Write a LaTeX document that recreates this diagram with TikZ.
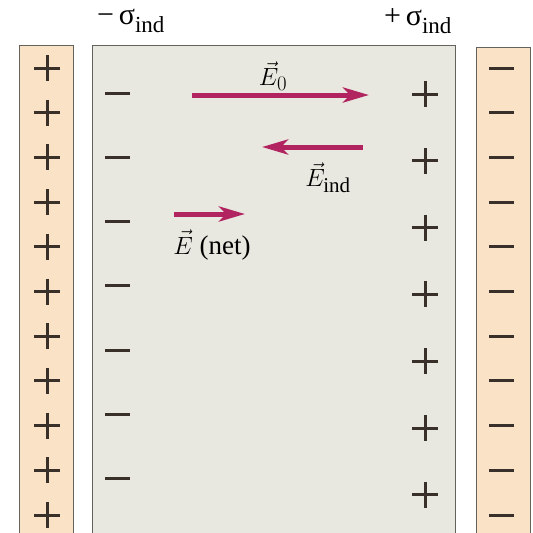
\documentclass[tikz,border=0pt]{standalone}
\usepackage{fontspec}
\setmainfont{Liberation Serif}
\DeclareMathSizes{27}{27}{21}{16}
\DeclareMathSizes{30}{30}{23}{18}
\usetikzlibrary{arrows.meta}
\definecolor{plateFill}{RGB}{250,226,198}
\definecolor{slabFill}{RGB}{233,232,224}
\definecolor{edgeInk}{RGB}{100,98,92}
\definecolor{chargeInk}{RGB}{58,48,42}
\definecolor{fieldRed}{RGB}{178,36,96}
\tikzset{
  plate/.style={draw=edgeInk, line width=1pt, fill=plateFill},
  slab/.style={draw=edgeInk, line width=1pt, fill=slabFill},
  charge/.style={draw=chargeInk, line width=3pt},
  field/.style={-{Stealth[length=26pt,width=15pt,inset=7pt]}, line width=5pt, draw=fieldRed},
  lbl/.style={font=\fontsize{27}{27}\selectfont, inner sep=0pt},
  siglbl/.style={font=\fontsize{30}{30}\selectfont, inner sep=0pt}
}
\begin{document}
\begin{tikzpicture}[x=1pt,y=-1pt]
  \useasboundingbox (0,0) rectangle (533,533);
  \clip (0,0) rectangle (533,533);
  % plates and dielectric slab
  \fill[white] (0,0) rectangle (533,533);
  \draw[plate] (19,45) rectangle (73,560);
  \draw[slab] (92,45) rectangle (455,560);
  \draw[plate] (476,47) rectangle (530,560);
  % free charges on the plates
  \foreach \i in {0,...,10} {
    \pgfmathsetmacro\cy{68+44.7*\i}
    \draw[charge] (34,\cy) -- (60,\cy) (47,{\cy-13}) -- (47,{\cy+13});
    \draw[charge] (489,\cy) -- (514,\cy);
  }
  % induced charges on the slab
  \foreach \i in {0,...,6} {
    \pgfmathsetmacro\ly{93+64.3*\i}
    \pgfmathsetmacro\ry{94+66.8*\i}
    \draw[charge] (105,\ly) -- (130,\ly);
    \draw[charge] (412,\ry) -- (438,\ry) (425,{\ry-13}) -- (425,{\ry+13});
  }
  % surface charge labels
  \node[siglbl] (sl) at (131,21) {−\,σ\textsubscript{ind}};
  \node[siglbl] (sr) at (418,21) {+\,σ\textsubscript{ind}};
  % field vectors
  \coordinate (e0a) at (192,95);
  \coordinate (e0b) at (369,95);
  \coordinate (eia) at (363,147);
  \coordinate (eib) at (262,147);
  \coordinate (ena) at (174,214);
  \coordinate (enb) at (245,214);
  \draw[field] (e0a) -- (e0b);
  \draw[field] (eia) -- (eib);
  \draw[field] (ena) -- (enb);
  \node[lbl] (l0) at (273,76) {$\vec{E}_0$};
  \node[lbl] (li) at (328,178) {$\vec{E}_{\mathrm{ind}}$};
  \node[lbl] (ln) at (212,245) {$\vec{E}$ (net)};
\end{tikzpicture}
\end{document}
